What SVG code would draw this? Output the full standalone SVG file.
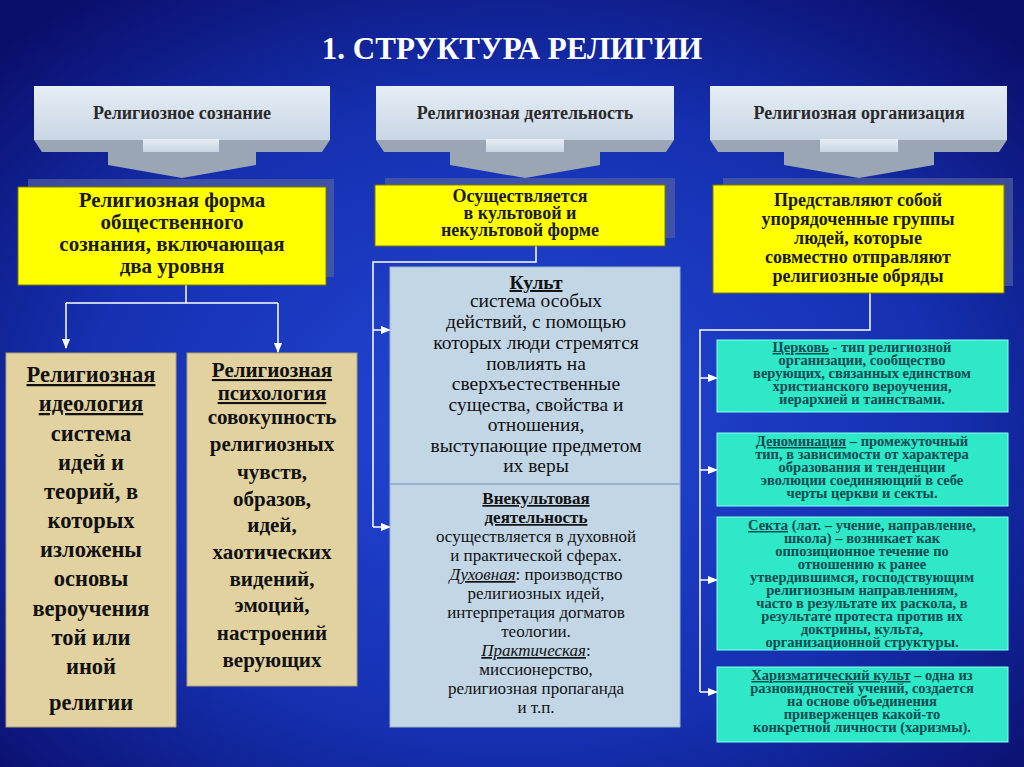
<svg xmlns="http://www.w3.org/2000/svg" width="1024" height="767" viewBox="0 0 1024 767">
<defs>
<radialGradient id="bg" cx="0.5" cy="0.55" r="0.7">
<stop offset="0" stop-color="#2448d8"/><stop offset="0.6" stop-color="#1530b0"/><stop offset="1" stop-color="#0a0e6a"/>
</radialGradient>
<linearGradient id="hd" x1="0" y1="0" x2="0" y2="1"><stop offset="0" stop-color="#e6eef6"/><stop offset="1" stop-color="#c9d6e4"/></linearGradient>
<marker id="ar" viewBox="0 0 10 10" refX="9" refY="5" markerWidth="7" markerHeight="7" orient="auto"><path d="M0,1 L10,5 L0,9 z" fill="#fff"/></marker>
</defs>
<style>
.hdr{fill:url(#hd)}
.bev{fill:#9aa6b4}
.ht{font-family:"Liberation Serif",serif;font-weight:bold;font-size:18px;fill:#2a2a2a;text-anchor:middle}
.yel{fill:#ffff00;stroke:#7a7a00;stroke-width:1}
.sh{fill:#5060a0;opacity:0.7}
.yt{font-family:"Liberation Serif",serif;font-weight:bold;fill:#1a1a1a;text-anchor:middle}
.tan{fill:#e2d2a0;stroke:#b0a070}
.bt{font-family:"Liberation Serif",serif;fill:#111;text-anchor:middle}
.teal{fill:#2ee8c8;stroke:#88fff0;stroke-width:1}
.tt{font-family:"Liberation Serif",serif;font-weight:bold;font-size:14.5px;fill:#0a4a50;text-anchor:middle}
.ln{stroke:#fff;stroke-width:1.5;fill:none}
</style>
<rect width="1024" height="767" fill="url(#bg)"/>
<text x="512" y="59" font-family="Liberation Serif, serif" font-weight="bold" font-size="31" fill="#fff" text-anchor="middle">1. СТРУКТУРА РЕЛИГИИ</text>

<g id="h1">
<polygon class="bev" points="34,140 330,140 322,152 42,152"/>
<polygon class="bev" points="108,150 256,150 256,165 182,178 108,165"/>
<rect class="hdr" x="34" y="86" width="296" height="54"/>
<polygon class="hdr" points="143,139 219,139 219,152 143,152"/>
<text class="ht" x="182" y="119">Религиозное сознание</text>
</g>
<g id="h2">
<polygon class="bev" points="376,140 674,140 666,152 384,152"/>
<polygon class="bev" points="450,150 600,150 600,165 525,178 450,165"/>
<rect class="hdr" x="376" y="86" width="298" height="54"/>
<polygon class="hdr" points="486,139 564,139 564,152 486,152"/>
<text class="ht" x="525" y="119">Религиозная деятельность</text>
</g>
<g id="h3">
<polygon class="bev" points="710,140 1007,140 999,152 718,152"/>
<polygon class="bev" points="784,150 934,150 934,165 859,178 784,165"/>
<rect class="hdr" x="710" y="86" width="297" height="54"/>
<polygon class="hdr" points="820,139 898,139 898,152 820,152"/>
<text class="ht" x="859" y="119">Религиозная организация</text>
</g>

<g id="connectors">
<polyline class="ln" points="186,285 186,303"/>
<polyline class="ln" points="66,303 278,303"/>
<line class="ln" x1="66" y1="303" x2="66" y2="348" marker-end="url(#ar)"/>
<line class="ln" x1="278" y1="303" x2="278" y2="352" marker-end="url(#ar)"/>
<polyline class="ln" points="536,246 536,262 373,262 373,527"/>
<line class="ln" x1="373" y1="330" x2="390" y2="330" marker-end="url(#ar)"/>
<line class="ln" x1="373" y1="527" x2="390" y2="527" marker-end="url(#ar)"/>
<polyline class="ln" points="870,293 870,330 700,330 700,692"/>
<line class="ln" x1="700" y1="378" x2="717" y2="378" marker-end="url(#ar)"/>
<line class="ln" x1="700" y1="470" x2="717" y2="470" marker-end="url(#ar)"/>
<line class="ln" x1="700" y1="580" x2="717" y2="580" marker-end="url(#ar)"/>
<line class="ln" x1="700" y1="692" x2="717" y2="692" marker-end="url(#ar)"/>
</g>

<g id="y1">
<rect class="sh" x="28" y="179" width="306" height="98"/>
<rect class="yel" x="18" y="187" width="308" height="98"/>
<text class="yt" font-size="21"><tspan x="172" y="207">Религиозная форма</tspan><tspan x="172" y="229">общественного</tspan><tspan x="172" y="251">сознания, включающая</tspan><tspan x="172" y="273">два уровня</tspan></text>
</g>
<g id="y2">
<rect class="sh" x="385" y="178" width="290" height="60"/>
<rect class="yel" x="375" y="185" width="290" height="61"/>
<text class="yt" font-size="18"><tspan x="520" y="202">Осуществляется</tspan><tspan x="520" y="219">в культовой и</tspan><tspan x="520" y="236">некультовой форме</tspan></text>
</g>
<g id="y3">
<rect class="sh" x="723" y="178" width="290" height="108"/>
<rect class="yel" x="713" y="185" width="291" height="108"/>
<text class="yt" font-size="18"><tspan x="858" y="206">Представляют собой</tspan><tspan x="858" y="225">упорядоченные группы</tspan><tspan x="858" y="244">людей, которые</tspan><tspan x="858" y="263">совместно отправляют</tspan><tspan x="858" y="282">религиозные обряды</tspan></text>
</g>

<g id="ideology">
<rect class="tan" x="6" y="353" width="170" height="374"/>
<text class="bt" font-weight="bold" font-size="22.5"><tspan x="91" y="382" text-decoration="underline">Религиозная</tspan><tspan x="91" y="411" text-decoration="underline">идеология</tspan><tspan x="91" y="441">система</tspan><tspan x="91" y="470">идей и</tspan><tspan x="91" y="499">теорий, в</tspan><tspan x="91" y="528">которых</tspan><tspan x="91" y="557">изложены</tspan><tspan x="91" y="586">основы</tspan><tspan x="91" y="616">вероучения</tspan><tspan x="91" y="645">той или</tspan><tspan x="91" y="674">иной</tspan><tspan x="91" y="710">религии</tspan></text>
</g>
<g id="psychology">
<rect class="tan" x="187" y="353" width="170" height="333"/>
<text class="bt" font-weight="bold" font-size="21"><tspan x="272" y="377" text-decoration="underline">Религиозная</tspan><tspan x="272" y="400" text-decoration="underline">психология</tspan><tspan x="272" y="424">совокупность</tspan><tspan x="272" y="451">религиозных</tspan><tspan x="272" y="479">чувств,</tspan><tspan x="272" y="506">образов,</tspan><tspan x="272" y="532">идей,</tspan><tspan x="272" y="559">хаотических</tspan><tspan x="272" y="586">видений,</tspan><tspan x="272" y="612">эмоций,</tspan><tspan x="272" y="640">настроений</tspan><tspan x="272" y="667">верующих</tspan></text>
</g>

<g id="activity">
<rect x="390" y="267" width="290" height="460" fill="#c3d6e6" stroke="#9fb4c8"/>
<line x1="390" y1="484" x2="680" y2="484" stroke="#8aa6c6" stroke-width="1.5"/>
<text class="bt" font-size="19.5"><tspan x="536" y="289" font-weight="bold" text-decoration="underline">Культ</tspan><tspan x="536" y="307">система особых</tspan><tspan x="536" y="328">действий, с помощью</tspan><tspan x="536" y="349">которых люди стремятся</tspan><tspan x="536" y="370">повлиять на</tspan><tspan x="536" y="390">сверхъестественные</tspan><tspan x="536" y="411">существа, свойства и</tspan><tspan x="536" y="431">отношения,</tspan><tspan x="536" y="452">выступающие предметом</tspan><tspan x="536" y="472">их веры</tspan></text>
<text class="bt" font-size="17"><tspan x="536" y="504" font-weight="bold" text-decoration="underline">Внекультовая</tspan><tspan x="536" y="523" font-weight="bold" text-decoration="underline">деятельность</tspan><tspan x="536" y="542">осуществляется в духовной</tspan><tspan x="536" y="561">и практической сферах.</tspan><tspan x="536" y="580"><tspan font-style="italic" text-decoration="underline">Духовная</tspan>: производство</tspan><tspan x="536" y="599">религиозных идей,</tspan><tspan x="536" y="618">интерпретация догматов</tspan><tspan x="536" y="637">теологии.</tspan><tspan x="536" y="656"><tspan font-style="italic" text-decoration="underline">Практическая</tspan>:</tspan><tspan x="536" y="675">миссионерство,</tspan><tspan x="536" y="694">религиозная пропаганда</tspan><tspan x="536" y="713">и т.п.</tspan></text>
</g>

<g id="church">
<rect class="teal" x="717" y="340" width="291" height="72"/>
<text class="tt"><tspan x="862" y="352"><tspan text-decoration="underline">Церковь</tspan> - тип религиозной</tspan><tspan x="862" y="365">организации, сообщество</tspan><tspan x="862" y="378">верующих, связанных единством</tspan><tspan x="862" y="391">христианского вероучения,</tspan><tspan x="862" y="404">иерархией и таинствами.</tspan></text>
</g>
<g id="denom">
<rect class="teal" x="717" y="433" width="291" height="73"/>
<text class="tt"><tspan x="862" y="446"><tspan text-decoration="underline">Деноминация</tspan> – промежуточный</tspan><tspan x="862" y="459">тип, в зависимости от характера</tspan><tspan x="862" y="472">образования и тенденции</tspan><tspan x="862" y="485">эволюции соединяющий в себе</tspan><tspan x="862" y="498">черты церкви и секты.</tspan></text>
</g>
<g id="sect">
<rect class="teal" x="717" y="517" width="291" height="133"/>
<text class="tt"><tspan x="862" y="530"><tspan text-decoration="underline">Секта</tspan> (лат. – учение, направление,</tspan><tspan x="862" y="543">школа) – возникает как</tspan><tspan x="862" y="556">оппозиционное течение по</tspan><tspan x="862" y="569">отношению к ранее</tspan><tspan x="862" y="582">утвердившимся, господствующим</tspan><tspan x="862" y="595">религиозным направлениям,</tspan><tspan x="862" y="608">часто в результате их раскола, в</tspan><tspan x="862" y="621">результате протеста против их</tspan><tspan x="862" y="634">доктрины, культа,</tspan><tspan x="862" y="647">организационной структуры.</tspan></text>
</g>
<g id="charisma">
<rect class="teal" x="717" y="667" width="291" height="75"/>
<text class="tt"><tspan x="862" y="680"><tspan text-decoration="underline">Харизматический культ</tspan> – одна из</tspan><tspan x="862" y="693">разновидностей учений, создается</tspan><tspan x="862" y="706">на основе объединения</tspan><tspan x="862" y="719">приверженцев какой-то</tspan><tspan x="862" y="732">конкретной личности (харизмы).</tspan></text>
</g>
</svg>
